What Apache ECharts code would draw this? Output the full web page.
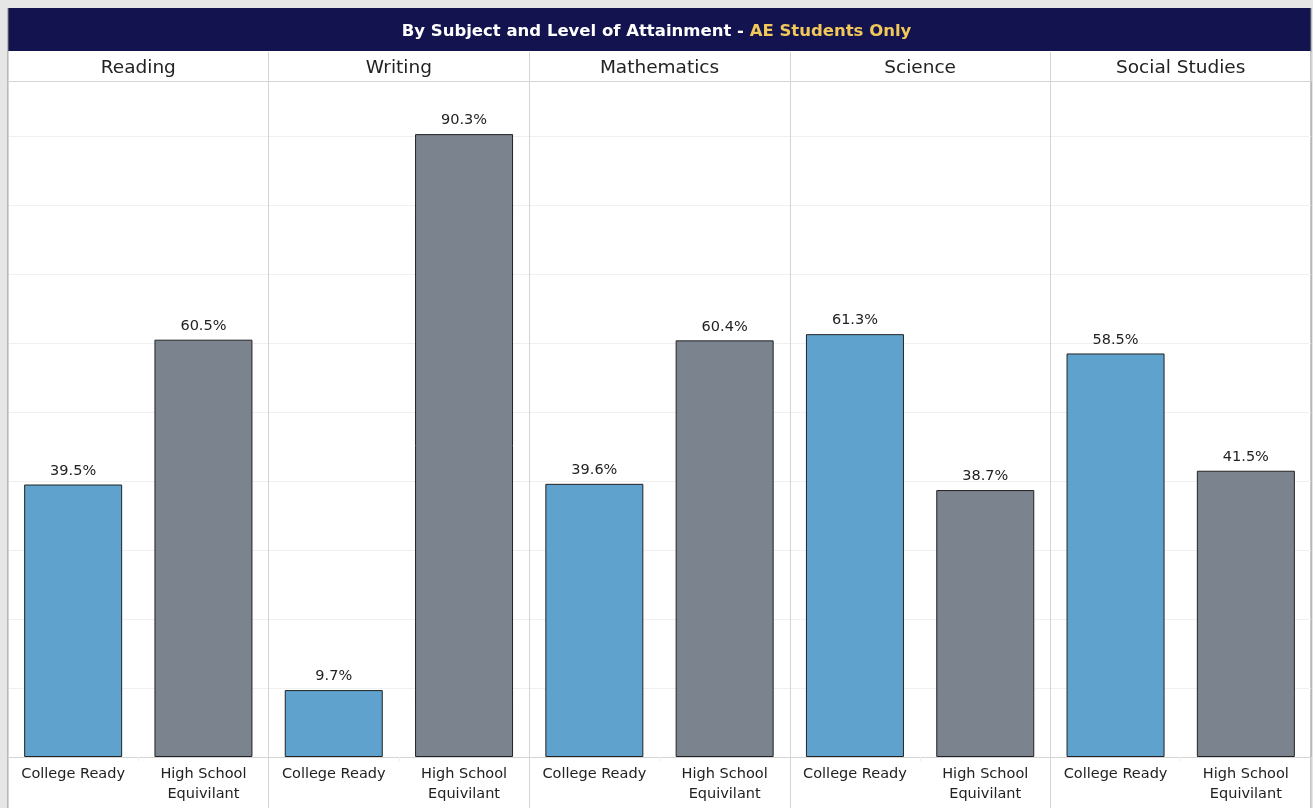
<!DOCTYPE html>
<html><head><meta charset="utf-8">
<script src="https://cdn.jsdelivr.net/npm/echarts@6/dist/echarts.min.js"></script>
<style>html,body{margin:0;padding:0;background:#e6e6e6}#c{width:1313px;height:808px}</style>
</head><body><div id="c"></div>
<script>
const subjects = ['Reading','Writing','Mathematics','Science','Social Studies'];
const levels = ['College Ready','High School\nEquivilant'];
const collegeReady = [39.5, 9.7, 39.6, 61.3, 58.5];
const highSchoolEquiv = [60.5, 90.3, 60.4, 38.7, 41.5];
const colors = ['#5fa2cd','#7b838f'];

const chart = echarts.init(document.getElementById('c'));
const L0 = 8, R0 = 1311, N = subjects.length;
const W = (R0 - L0) / N;
const grids = [], xAxes = [], yAxes = [], series = [];
subjects.forEach((s, i) => {
  grids.push({left: L0 + i*W, width: W, top: 81, bottom: 51, containLabel: false});
  xAxes.push({gridIndex: i, type: 'category', position: 'bottom', data: levels,
    axisLine: {show: true, lineStyle: {color: '#d4d4d4', width: 1}},
    axisTick: {show: true, length: 4, lineStyle: {color: '#ececec'}},
    axisLabel: {color: '#222', fontSize: 14.5, fontFamily: 'DejaVu Sans', margin: 7, lineHeight: 20, interval: 0}
  });
  xAxes.push({gridIndex: i, type: 'category', position: 'top', data: [s],
    axisLine: {show: true, lineStyle: {color: '#d4d4d4', width: 1}},
    axisTick: {show: true, length: 29, lineStyle: {color: '#d4d4d4'}},
    axisLabel: {color: '#222', fontSize: 18.5, fontFamily: 'DejaVu Sans', margin: 3, lineHeight: 20}
  });
  xAxes.push({gridIndex: i, type: 'category', position: 'bottom', data: [''],
    axisLine: {show: false},
    axisTick: {show: true, length: 51, lineStyle: {color: '#d4d4d4'}},
    axisLabel: {show: false}
  });
  yAxes.push({gridIndex: i, type: 'value', min: 0, max: 98, interval: 10,
    axisLine: {show: true, lineStyle: {color: '#d4d4d4'}},
    axisTick: {show: false}, axisLabel: {show: false},
    splitLine: {show: true, lineStyle: {color: '#f0f0f0', width: 1}}
  });
  series.push({type: 'bar', xAxisIndex: i*3, yAxisIndex: i, barWidth: 98,
    data: [collegeReady[i], highSchoolEquiv[i]].map((v, k) => ({value: v, itemStyle: {color: colors[k]}})),
    itemStyle: {borderColor: '#222', borderWidth: 1},
    label: {show: true, position: 'top', distance: 6, formatter: p => p.value.toFixed(1) + '%',
      color: '#222', fontSize: 14.5, fontFamily: 'DejaVu Sans'},
    silent: true, animation: false
  });
});

chart.setOption({
  animation: false,
  backgroundColor: '#e6e6e6',
  graphic: [
    {type: 'rect', z: -10, shape: {x: 8, y: 51, width: 1303, height: 757}, style: {fill: '#ffffff'}},
    {type: 'rect', z: -10, shape: {x: 8, y: 8, width: 1303, height: 43}, style: {fill: '#13144f'}},
    {type: 'line', z: -5, shape: {x1: 1311, y1: 8, x2: 1311, y2: 808}, style: {stroke: '#8a8a8a', lineWidth: 1}},
    {type: 'line', z: -5, shape: {x1: 8, y1: 8, x2: 8, y2: 808}, style: {stroke: '#8a8a8a', lineWidth: 1}}
  ],
  title: {
    text: '{w|By Subject and Level of Attainment - }{y|AE Students Only}',
    left: 'center', top: 18,
    textStyle: {rich: {
      w: {color: '#ffffff', fontSize: 16.5, fontWeight: 'bold', fontFamily: 'DejaVu Sans'},
      y: {color: '#f2c85b', fontSize: 16.5, fontWeight: 'bold', fontFamily: 'DejaVu Sans'}
    }}
  },
  grid: grids, xAxis: xAxes, yAxis: yAxes, series: series
});
</script></body></html>
